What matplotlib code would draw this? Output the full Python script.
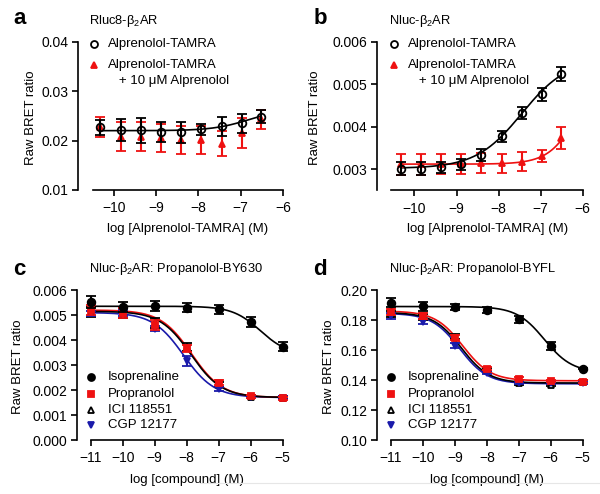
import numpy as np
import matplotlib
matplotlib.use('Agg')
import matplotlib.pyplot as plt
from matplotlib.lines import Line2D

plt.rcParams['font.family'] = ['Liberation Sans', 'DejaVu Sans']
plt.rcParams['mathtext.fontset'] = 'custom'
plt.rcParams['mathtext.rm'] = 'Liberation Sans'
plt.rcParams['mathtext.it'] = 'Liberation Sans:italic'
plt.rcParams['axes.linewidth'] = 1.2

# ---- data: panels a, b (3-fold dilutions of Alprenolol-TAMRA) ----
log_tamra = [-10.32, -9.84, -9.36, -8.89, -8.41, -7.93, -7.45, -6.98, -6.52]

a_tamra = [0.0227, 0.0221, 0.0221, 0.0217, 0.0217, 0.0223, 0.0229, 0.0235, 0.0248]
a_tamra_err = [0.0015, 0.0022, 0.0025, 0.0020, 0.0021, 0.0011, 0.0019, 0.0019, 0.0013]
a_block = [0.0228, 0.0208, 0.0208, 0.0205, 0.0201, 0.0201, 0.0194, 0.0215, 0.0243]
a_block_err = [0.0020, 0.0030, 0.0029, 0.0028, 0.0029, 0.0028, 0.0025, 0.0030, 0.0019]
a_fit = (0.0220, 0.0265, -6.8, 1.0)   # bottom, top, logEC50, hill

b_tamra = [0.00301, 0.00301, 0.00305, 0.00312, 0.00334, 0.00377, 0.00432, 0.00476, 0.00524]
b_tamra_err = [0.00015, 0.00015, 0.00013, 0.00013, 0.00014, 0.00012, 0.00015, 0.00016, 0.00017]
b_block = [0.00312, 0.00312, 0.00312, 0.00312, 0.00315, 0.00314, 0.00318, 0.00331, 0.00374]
b_block_err = [0.00025, 0.00025, 0.00024, 0.00023, 0.00023, 0.00023, 0.00022, 0.00014, 0.00026]
b_tamra_fit = (0.00302, 0.0056, -7.45, 0.8)
b_block_fit = (0.00312, 0.0060, -6.0, 1.2)

# ---- data: panels c, d (competition) ----
log_cpd = [-11, -10, -9, -8, -7, -6, -5]

c_iso = [0.00553, 0.00533, 0.00537, 0.00529, 0.00523, 0.00471, 0.00373]
c_iso_err = [0.00023, 0.00020, 0.00020, 0.00018, 0.00018, 0.00020, 0.00018]
c_prop = [0.00520, 0.00507, 0.00460, 0.00367, 0.00229, 0.00176, 0.00167]
c_prop_err = [0.00020, 0.00020, 0.00020, 0.00015, 0.00010, 0.00006, 0.00006]
c_ici = [0.00512, 0.00510, 0.00470, 0.00372, 0.00222, 0.00173, 0.00170]
c_cgp = [0.00508, 0.00508, 0.00446, 0.00318, 0.00205, 0.00172, 0.00170]
c_cgp_err = [0.00010, 0.00012, 0.00010, 0.00020, 0.00008, 0.00005, 0.00005]
c_iso_fit = (0.0034, 0.00535, -5.7, -1.0)
c_prop_fit = (0.0017, 0.0052, -7.85, -0.9)
c_ici_fit = (0.0017, 0.00515, -7.87, -0.9)
c_cgp_fit = (0.0017, 0.0051, -8.1, -0.9)

d_iso = [0.1915, 0.1893, 0.1889, 0.1867, 0.1805, 0.1627, 0.1476]
d_iso_err = [0.0030, 0.0030, 0.0020, 0.0020, 0.0025, 0.0025, 0.0005]
d_prop = [0.1853, 0.1827, 0.1682, 0.1476, 0.1409, 0.1393, 0.1389]
d_prop_err = [0.0020, 0.0020, 0.0015, 0.0010, 0.0010, 0.0008, 0.0008]
d_ici = [0.1840, 0.1820, 0.1690, 0.1470, 0.1380, 0.1370, 0.1390]
d_cgp = [0.1830, 0.1790, 0.1630, 0.1450, 0.1380, 0.1380, 0.1380]
d_cgp_err = [0.0020, 0.0015, 0.0015, 0.0010, 0.0008, 0.0008, 0.0008]
d_iso_fit = (0.145, 0.189, -6.2, -1.0)
d_prop_fit = (0.1395, 0.186, -8.75, -1.0)
d_ici_fit = (0.1380, 0.185, -8.80, -1.0)
d_cgp_fit = (0.1375, 0.1845, -8.85, -1.0)

RED = '#EE1111'
BLUE = '#1A1AAA'


def hill(x, bottom, top, logec50, h):
    return bottom + (top - bottom) / (1 + 10 ** ((logec50 - x) * h))


def style(ax, xlim, xbounds, xticks, ylim, yticks, yfmt, ylab_x):
    ax.set_xlim(*xlim)
    ax.set_ylim(*ylim)
    ax.set_xticks(xticks)
    ax.set_yticks(yticks)
    ax.set_yticklabels([yfmt.format(v) for v in yticks])
    ax.spines['top'].set_visible(False)
    ax.spines['right'].set_visible(False)
    ax.spines['bottom'].set_bounds(*xbounds)
    ax.tick_params(direction='out', length=4, width=1.2, labelsize=10, pad=3)
    ax.tick_params(axis='x', pad=4)
    ax.set_ylabel('Raw BRET ratio', fontsize=9.5)
    ax.yaxis.set_label_coords(ylab_x, 0.49)


def errplot(ax, x, y, e, fmt, color, mfc, ms, z):
    ax.errorbar(x, y, yerr=e, fmt=fmt, color=color, mfc=mfc, mec=color, ms=ms,
                mew=1.3, elinewidth=1.5, capsize=3.5, capthick=1.5, zorder=z,
                clip_on=False)


def legend_rows(ax, rows, x0, xt, fs=9.5):
    for (y, marker, color, mfc, label) in rows:
        if marker is not None:
            ax.plot([x0], [y], marker=marker, color=color, mfc=mfc, mec=color,
                    ms=5, mew=1.3, transform=ax.transAxes, clip_on=False, ls='none')
        ax.text(xt, y, label, transform=ax.transAxes, va='center', ha='left', fontsize=fs)


fig = plt.figure(figsize=(6.0, 4.94), dpi=100)

# ---------------- a ----------------
ax = fig.add_axes([0.130, 0.6154, 0.3417, 0.3002])
errplot(ax, log_tamra, a_block, a_block_err, '^', RED, RED, 5, 3)
errplot(ax, log_tamra, a_tamra, a_tamra_err, 'o', 'black', 'none', 5.5, 4)
xs = np.linspace(log_tamra[0], log_tamra[-1], 200)
ax.plot(xs, hill(xs, *a_fit), color='black', lw=1.2, zorder=2)
style(ax, (-10.85, -6), (-10.5, -6), [-10, -9, -8, -7, -6], (0.01, 0.04),
      [0.01, 0.02, 0.03, 0.04], '{:.2f}', -0.198)
ax.set_xlabel('log [Alprenolol-TAMRA] (M)', fontsize=9.5)
ax.xaxis.set_label_coords(0.535, -0.225)
legend_rows(ax, [(0.985, 'o', 'black', 'none', 'Alprenolol-TAMRA'),
                 (0.843, '^', RED, RED, 'Alprenolol-TAMRA'),
                 (0.735, None, None, None, '   + 10 \u03bcM Alprenolol')], 0.078, 0.146)

# ---------------- b ----------------
ax = fig.add_axes([0.629, 0.6144, 0.3423, 0.3012])
errplot(ax, log_tamra, b_block, b_block_err, '^', RED, RED, 5, 3)
errplot(ax, log_tamra, b_tamra, b_tamra_err, 'o', 'black', 'none', 5.5, 4)
ax.plot(xs, hill(xs, *b_block_fit), color=RED, lw=1.2, zorder=2)
ax.plot(xs, hill(xs, *b_tamra_fit), color='black', lw=1.2, zorder=2)
style(ax, (-10.88, -6), (-10.55, -6), [-10, -9, -8, -7, -6], (0.0025, 0.006),
      [0.003, 0.004, 0.005, 0.006], '{:.3f}', -0.277)
ax.set_xlabel('log [Alprenolol-TAMRA] (M)', fontsize=9.5)
ax.xaxis.set_label_coords(0.535, -0.22)
legend_rows(ax, [(0.985, 'o', 'black', 'none', 'Alprenolol-TAMRA'),
                 (0.843, '^', RED, RED, 'Alprenolol-TAMRA'),
                 (0.735, None, None, None, '   + 10 \u03bcM Alprenolol')], 0.083, 0.15)


def competition(ax, iso, iso_e, prop, prop_e, ici, cgp, cgp_e, fits):
    xs = np.linspace(log_cpd[0], log_cpd[-1], 300)
    f_iso, f_prop, f_ici, f_cgp = fits
    errplot(ax, log_cpd, ici, prop_e, '^', 'black', 'white', 5, 3)
    errplot(ax, log_cpd, cgp, cgp_e, 'v', BLUE, BLUE, 5, 3.2)
    errplot(ax, log_cpd, prop, prop_e, 's', RED, RED, 5, 3.4)
    errplot(ax, log_cpd, iso, iso_e, 'o', 'black', 'black', 5.5, 3.6)
    ax.plot(xs, hill(xs, *f_cgp), color=BLUE, lw=1.2, zorder=2)
    ax.plot(xs, hill(xs, *f_prop), color=RED, lw=1.2, zorder=2.1)
    ax.plot(xs, hill(xs, *f_ici), color='black', lw=1.2, zorder=2.2)
    ax.plot(xs, hill(xs, *f_iso), color='black', lw=1.2, zorder=2.2)
    ax.set_xlabel('log [compound] (M)', fontsize=9.5)
    ax.xaxis.set_label_coords(0.535, -0.225)
    legend_rows(ax, [(0.422, 'o', 'black', 'black', 'Isoprenaline'),
                     (0.307, 's', RED, RED, 'Propranolol'),
                     (0.200, '^', 'black', 'white', 'ICI 118551'),
                     (0.100, 'v', BLUE, BLUE, 'CGP 12177')], 0.065, 0.15)


# ---------------- c ----------------
ax = fig.add_axes([0.1288, 0.1093, 0.3423, 0.3036])
competition(ax, c_iso, c_iso_err, c_prop, c_prop_err, c_ici, c_cgp, c_cgp_err,
            (c_iso_fit, c_prop_fit, c_ici_fit, c_cgp_fit))
style(ax, (-11.42, -5), (-11, -5), list(range(-11, -4)), (0.0, 0.006),
      [0.0, 0.001, 0.002, 0.003, 0.004, 0.005, 0.006], '{:.3f}', -0.257)

# ---------------- d ----------------
ax = fig.add_axes([0.629, 0.1093, 0.3423, 0.3036])
competition(ax, d_iso, d_iso_err, d_prop, d_prop_err, d_ici, d_cgp, d_cgp_err,
            (d_iso_fit, d_prop_fit, d_ici_fit, d_cgp_fit))
style(ax, (-11.42, -5), (-11, -5), list(range(-11, -4)), (0.10, 0.20),
      [0.10, 0.12, 0.14, 0.16, 0.18, 0.20], '{:.2f}', -0.208)

# titles and panel letters
for x, y, t in [(0.148, 0.958, 'Rluc8-\u03b2$_2$AR'), (0.648, 0.958, 'Nluc-\u03b2$_2$AR'),
                (0.148, 0.455, 'Nluc-\u03b2$_2$AR: Propanolol-BY630'),
                (0.648, 0.455, 'Nluc-\u03b2$_2$AR: Propanolol-BYFL')]:
    fig.text(x, y, t, fontsize=9.3, va='center', ha='left')
for x, y, t in [(0.022, 0.962, 'a'), (0.522, 0.962, 'b'), (0.022, 0.455, 'c'), (0.522, 0.455, 'd')]:
    fig.text(x, y, t, fontsize=16, fontweight='bold', va='center', ha='left')

# faint frame edge at the bottom of the source image
fig.add_artist(Line2D([0.333, 1.0], [0.022, 0.022], color='#E6E6E6', lw=0.8))

fig.savefig('out.png', dpi=100)
